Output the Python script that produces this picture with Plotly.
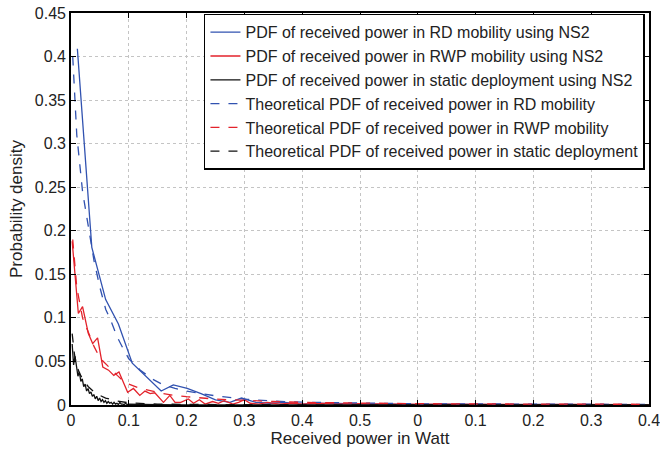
import plotly.graph_objects as go

# ---- data ----
x_rd_ns2 = [0.011, 0.036, 0.060, 0.082, 0.106, 0.131, 0.156, 0.177, 0.201, 0.225, 0.250,
            0.275, 0.295, 0.320, 0.345, 0.370, 0.395, 0.45, 0.50, 0.55, 0.60, 0.65, 0.70,
            0.75, 0.80, 0.85, 0.90, 0.95, 1.0]
y_rd_ns2 = [0.409, 0.181, 0.121, 0.093, 0.048, 0.032, 0.016, 0.023, 0.019, 0.013, 0.006,
            0.003, 0.008, 0.003, 0.002, 0.003, 0.001, 0.002, 0.001, 0.001, 0.0005, 0.001,
            0.0005, 0.0005, 0.0008, 0.0003, 0.0005, 0.0002, 0.0003]

x_rwp_ns2 = [0.002, 0.0127, 0.020, 0.030, 0.0375, 0.046, 0.055, 0.065, 0.074, 0.083, 0.093,
             0.098, 0.108, 0.119, 0.128, 0.137, 0.145, 0.160, 0.171, 0.180, 0.190, 0.203,
             0.212, 0.222, 0.232, 0.245, 0.255, 0.265, 0.280, 0.290, 0.300, 0.310, 0.325,
             0.340, 0.360, 0.380, 0.400, 0.430, 0.460, 0.50, 0.55, 0.60, 0.65, 0.70, 0.75,
             0.80, 0.85, 0.90, 0.95, 1.0]
y_rwp_ns2 = [0.188, 0.105, 0.113, 0.082, 0.0705, 0.077, 0.0435, 0.040, 0.034, 0.038, 0.0225,
             0.0147, 0.019, 0.011, 0.016, 0.013, 0.014, 0.003, 0.011, 0.003, 0.003, 0.007,
             0.002, 0.006, 0.001, 0.004, 0.002, 0.005, 0.001, 0.003, 0.006, 0.002, 0.001,
             0.003, 0.001, 0.002, 0.001, 0.002, 0.001, 0.0015, 0.001, 0.0008, 0.001, 0.0005,
             0.0008, 0.0005, 0.0007, 0.0004, 0.0006, 0.0004]

x_static_ns2 = [0.002, 0.0045, 0.007, 0.0095, 0.012, 0.0145, 0.017, 0.0195, 0.022, 0.0245,
                0.027, 0.0295, 0.032, 0.0345, 0.037, 0.0395, 0.042, 0.0445, 0.047, 0.0495,
                0.052, 0.0545, 0.057, 0.0595, 0.062, 0.0645, 0.067, 0.0695, 0.072, 0.0745,
                0.077, 0.0795, 0.082, 0.0845, 0.087, 0.0895, 0.092, 0.0945, 0.097, 0.100,
                0.12, 0.15, 0.20, 0.30, 0.50, 0.75, 1.0]
y_static_ns2 = [0.070, 0.046, 0.056, 0.043, 0.033, 0.038, 0.027, 0.030, 0.021, 0.024,
                0.016, 0.019, 0.013, 0.015, 0.010, 0.012, 0.007, 0.010, 0.005, 0.008,
                0.004, 0.006, 0.003, 0.005, 0.002, 0.004, 0.002, 0.003, 0.001, 0.003,
                0.001, 0.002, 0.0005, 0.003, 0.001, 0.001, 0.0005, 0.002, 0.0005, 0.001,
                0.0005, 0.0003, 0.0002, 0.0002, 0.0001, 0.0001, 0.0001]

x_theory = [0.003, 0.01, 0.02, 0.03, 0.04, 0.05, 0.06, 0.07, 0.08, 0.09, 0.10, 0.12, 0.14,
            0.16, 0.18, 0.20, 0.25, 0.30, 0.35, 0.40, 0.50, 0.60, 0.70, 0.80, 0.90, 1.0]
y_rd_theory = [0.40, 0.31, 0.245, 0.205, 0.165, 0.135, 0.110, 0.095, 0.078, 0.065, 0.053,
               0.040, 0.030, 0.023, 0.019, 0.016, 0.0105, 0.0068, 0.0045, 0.0032, 0.002,
               0.0014, 0.0012, 0.001, 0.0008, 0.0007]
y_rwp_theory = [0.19, 0.135, 0.100, 0.083, 0.067, 0.054, 0.047, 0.040, 0.034, 0.028, 0.024,
                0.019, 0.016, 0.013, 0.011, 0.0095, 0.0068, 0.005, 0.004, 0.003, 0.002,
                0.0015, 0.0012, 0.001, 0.0009, 0.0008]

x_static_theory = [0.002, 0.004, 0.006, 0.008, 0.010, 0.015, 0.020, 0.030, 0.040, 0.050,
                   0.060, 0.080, 0.100, 0.150, 0.200, 0.300, 0.500, 1.0]
y_static_theory = [0.082, 0.068, 0.058, 0.051, 0.045, 0.036, 0.030, 0.021, 0.015, 0.011,
                   0.008, 0.0045, 0.0025, 0.001, 0.0005, 0.0003, 0.0002, 0.0001]

x_tickvals = [0, 0.1, 0.2, 0.3, 0.4, 0.5, 0.6, 0.7, 0.8, 0.9, 1.0]
x_ticktext = ["0", "0.1", "0.2", "0.3", "0.4", "0.5", "0", "0.1", "0.2", "0.3", "0.4"]
y_tickvals = [0, 0.05, 0.1, 0.15, 0.2, 0.25, 0.3, 0.35, 0.4, 0.45]
y_ticktext = ["0", "0.05", "0.1", "0.15", "0.2", "0.25", "0.3", "0.35", "0.4", "0.45"]

names = [
    "PDF of received power in RD mobility using NS2",
    "PDF of received power in RWP mobility using NS2",
    "PDF of received power in static deployment using NS2",
    "Theoretical PDF of received power in RD mobility",
    "Theoretical PDF of received power in RWP mobility",
    "Theoretical PDF of received power in static deployment",
]

BLUE = "#3152b0"
RED = "#e3222b"
BLACK = "#111111"
FONT = "Liberation Sans, Arial, Helvetica, sans-serif"

fig = go.Figure()
series = [
    (x_rd_ns2, y_rd_ns2, BLUE, "solid"),
    (x_rwp_ns2, y_rwp_ns2, RED, "solid"),
    (x_static_ns2, y_static_ns2, BLACK, "solid"),
    (x_theory, y_rd_theory, BLUE, "dash"),
    (x_theory, y_rwp_theory, RED, "dash"),
    (x_static_theory, y_static_theory, BLACK, "dash"),
]
for (xs, ys, col, dash), nm in zip(series, names):
    fig.add_trace(go.Scatter(x=xs, y=ys, mode="lines", name=nm,
                             line=dict(color=col, width=1.3, dash=dash)))

axis_common = dict(showline=True, linecolor="black", linewidth=1.6, mirror="ticks",
                   ticks="inside", ticklen=5, tickcolor="black", tickwidth=1,
                   showgrid=True, gridcolor="#c4c4c4", griddash="dot", gridwidth=1,
                   zeroline=False, automargin=False, ticklabeloverflow="allow",
                   tickfont=dict(size=16, color="#222", family=FONT))

fig.update_layout(
    width=660, height=450,
    margin=dict(l=71, r=11, t=13, b=45),
    paper_bgcolor="white", plot_bgcolor="white",
    font=dict(family=FONT, color="#222"),
    showlegend=True,
    legend=dict(x=0.993, y=0.998, xanchor="right", yanchor="top",
                bgcolor="white", bordercolor="black", borderwidth=1.5,
                font=dict(size=16, family=FONT, color="#222"),
                tracegroupgap=0, itemwidth=30),
    xaxis=dict(range=[0, 1.0], tickvals=x_tickvals, ticktext=x_ticktext,
               ticklabelstandoff=0,
               title=dict(text="Received power in Watt", font=dict(size=17), standoff=2),
               **axis_common),
    yaxis=dict(range=[0, 0.45], tickvals=y_tickvals, ticktext=y_ticktext,
               title=dict(text="Probability density", font=dict(size=17), standoff=8),
               **axis_common),
)

# remove the browser's default body margin so the figure fills the window exactly
fig.write_html("out.html",
               config={"displayModeBar": False},
               post_script="document.body.style.margin='0';document.body.style.overflow='hidden';")
